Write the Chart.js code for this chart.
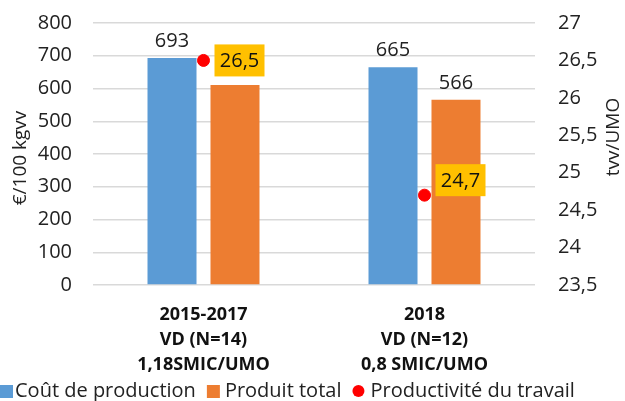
<!DOCTYPE html>
<html>
<head>
<meta charset="utf-8">
<script src="https://cdn.jsdelivr.net/npm/chart.js@4.4.1/dist/chart.umd.min.js"></script>
<style>
  html, body { margin: 0; padding: 0; background: #fff; }
  #wrap { width: 625px; height: 401px; position: relative; }
</style>
</head>
<body>
<div id="wrap"><canvas id="chart" width="625" height="401"></canvas></div>
<script>
// --- DATA ---
const categories = [
    ['2015-2017', 'VD (N=14)', '1,18SMIC/UMO'],
    ['2018', 'VD (N=12)', '0,8 SMIC/UMO']
];
const coutProduction = [693, 665];
const produitTotal = [611, 566];
const productivite = [26.5, 24.7];

const leftTicks = [0, 100, 200, 300, 400, 500, 600, 700, 800];
const rightTicks = [23.5, 24, 24.5, 25, 25.5, 26, 26.5, 27];

const FONT = 'Open Sans';
const COLORS = ['#5B9BD5', '#ED7D31', '#FF0000'];

// décalage vertical des cadres jaunes par rapport au point
const boxOffsetY = [0, -15];

function fmt(v) {
    return String(v).replace('.', ',');
}

// étiquettes, cadres jaunes, titres des axes et légende
const labelsPlugin = {
    id: 'labels',
    afterDatasetsDraw(chart) {
        const ctx = chart.ctx;
        ctx.save();
        ctx.font = `20px "${FONT}"`;
        ctx.fillStyle = '#222';
        ctx.textAlign = 'center';
        ctx.textBaseline = 'alphabetic';
        [0, 1].forEach(di => {
            chart.getDatasetMeta(di).data.forEach((bar, i) => {
                const v = chart.data.datasets[di].data[i];
                ctx.fillText(fmt(v), bar.x, bar.y - 11);
            });
        });

        // cadres jaunes
        chart.getDatasetMeta(2).data.forEach((pt, i) => {
            const v = chart.data.datasets[2].data[i];
            const w = 50, h = 32;
            const x = pt.x + 11;
            const y = pt.y - h / 2 + boxOffsetY[i];
            ctx.fillStyle = '#FFC000';
            ctx.fillRect(x, y, w, h);
            ctx.fillStyle = '#111';
            ctx.textBaseline = 'middle';
            ctx.fillText(fmt(v), x + w / 2, y + h / 2 + 1);
        });

        // titres des axes
        ctx.fillStyle = '#222';
        ctx.font = `19px "${FONT}"`;
        ctx.textBaseline = 'middle';
        ctx.save();
        ctx.translate(21, 158);
        ctx.rotate(-Math.PI / 2);
        ctx.fillText('€/100 kgvv', 0, 0);
        ctx.restore();
        ctx.save();
        ctx.translate(614, 137);
        ctx.rotate(-Math.PI / 2);
        ctx.fillText('tvv/UMO', 0, 0);
        ctx.restore();

        // légende
        ctx.font = `20px "${FONT}"`;
        ctx.textAlign = 'left';
        ctx.textBaseline = 'middle';
        const ly = 391;
        let lx = 0;
        chart.data.datasets.forEach((ds, i) => {
            ctx.fillStyle = COLORS[i];
            if (i < 2) {
                ctx.fillRect(lx, ly - 6, 13, 13);
            } else {
                ctx.beginPath();
                ctx.arc(lx + 6, ly, 6, 0, Math.PI * 2);
                ctx.fill();
            }
            lx += i === 0 ? 15 : 18;
            ctx.fillStyle = '#222';
            ctx.fillText(ds.label, lx, ly);
            lx += ctx.measureText(ds.label).width + 11;
        });
        ctx.restore();
    }
};

// largeur fixe des axes verticaux, sans marge auto en haut/bas
function fixVertical(width) {
    return scale => {
        scale.width = width;
        scale.paddingTop = 0;
        scale.paddingBottom = 0;
    };
}

new Chart(document.getElementById('chart'), {
    type: 'bar',
    data: {
        labels: categories,
        datasets: [
            {
                label: 'Coût de production',
                data: coutProduction,
                backgroundColor: COLORS[0],
                yAxisID: 'y',
                order: 2
            },
            {
                label: 'Produit total',
                data: produitTotal,
                backgroundColor: COLORS[1],
                yAxisID: 'y',
                order: 2
            },
            {
                type: 'line',
                label: 'Productivité du travail',
                data: productivite,
                yAxisID: 'y1',
                showLine: false,
                pointRadius: 6,
                pointHoverRadius: 6,
                pointBackgroundColor: COLORS[2],
                pointBorderColor: COLORS[2],
                backgroundColor: COLORS[2],
                borderColor: COLORS[2],
                order: 1
            }
        ]
    },
    options: {
        responsive: false,
        animation: false,
        devicePixelRatio: 1,
        layout: { autoPadding: false, padding: { top: 23, bottom: 22, left: 0, right: 0 } },
        datasets: {
            bar: { categoryPercentage: 0.57, barPercentage: 0.778 }
        },
        scales: {
            x: {
                grid: { display: false },
                border: { display: false },
                ticks: {
                    color: '#111',
                    font: { family: FONT, size: 18, weight: 'bold', lineHeight: 1.39 },
                    padding: 9
                },
                afterFit(scale) { scale.height = 94; }
            },
            y: {
                position: 'left',
                min: 0,
                max: 800,
                afterBuildTicks(scale) { scale.ticks = leftTicks.map(v => ({ value: v })); },
                grid: { color: '#D9D9D9', lineWidth: 1.5, drawTicks: false },
                border: { display: false },
                ticks: {
                    color: '#222',
                    font: { family: FONT, size: 20 },
                    padding: 21
                },
                afterFit: fixVertical(93)
            },
            y1: {
                position: 'right',
                min: 23.5,
                max: 27,
                afterBuildTicks(scale) { scale.ticks = rightTicks.map(v => ({ value: v })); },
                grid: { display: false, drawTicks: false },
                border: { display: false },
                ticks: {
                    color: '#222',
                    font: { family: FONT, size: 20 },
                    padding: 23,
                    callback: v => fmt(v)
                },
                afterFit: fixVertical(90)
            }
        },
        plugins: {
            legend: { display: false },
            tooltip: { enabled: false }
        }
    },
    plugins: [labelsPlugin]
});
</script>
</body>
</html>
